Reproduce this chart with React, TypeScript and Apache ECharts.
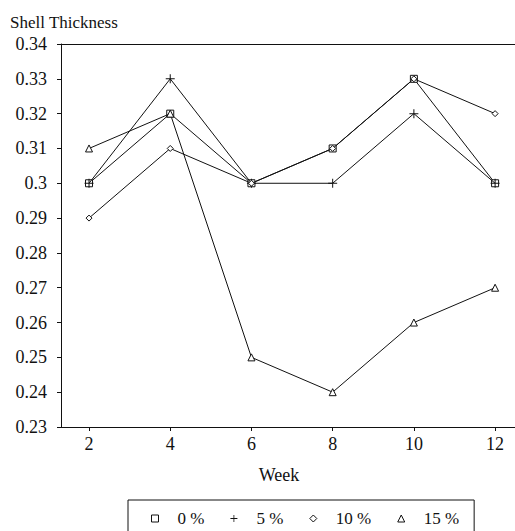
import React, { useEffect, useRef } from "react";
import * as echarts from "echarts";

const weeks = [2, 4, 6, 8, 10, 12];
const seriesNames = ["0 %", "5 %", "10 %", "15 %"];
const values0 = [0.3, 0.32, 0.3, 0.31, 0.33, 0.3];
const values5 = [0.3, 0.33, 0.3, 0.3, 0.32, 0.3];
const values10 = [0.29, 0.31, 0.3, 0.31, 0.33, 0.32];
const values15 = [0.31, 0.32, 0.25, 0.24, 0.26, 0.27];
const yTicks = { min: 0.23, max: 0.34, step: 0.01 };

const FONT = "Liberation Serif";
const INK = "#111";
const PLUS = "path://M4,0H5V9H4ZM0,4H9V5H0Z";

export default function App() {
  const ref = useRef<HTMLDivElement>(null);

  useEffect(() => {
    if (!ref.current) return;
    const chart = echarts.init(ref.current, null, { renderer: "svg" });
    const allValues = [values0, values5, values10, values15];
    const symbols = ["rect", PLUS, "diamond", "triangle"];
    const sizes = [7, 9, 6, 7];
    const legendText = {
      color: INK,
      fontFamily: FONT,
      fontSize: 17,
      padding: [0, 0, 0, 14],
    };
    const series = allValues.map((vals, i) => ({
      name: seriesNames[i],
      type: "line",
      data: weeks.map((w, j) => [w, vals[j]]),
      symbol: symbols[i],
      symbolSize: sizes[i],
      showAllSymbol: true,
      lineStyle: { color: INK, width: 1 },
      itemStyle:
        i === 1
          ? { color: INK, borderWidth: 0 }
          : { color: "#fff", borderColor: INK, borderWidth: 1 },
      z: 2 + i,
    }));

    chart.setOption({
      animation: false,
      textStyle: { fontFamily: FONT },
      grid: { left: 61, top: 44, right: 0, bottom: 104 },
      xAxis: [
        {
          type: "value",
          min: 1.31,
          max: 12.49,
          axisLine: { show: true, lineStyle: { color: INK, width: 1 } },
          axisTick: {
            show: true,
            length: 4,
            lineStyle: { color: INK },
            customValues: weeks,
          },
          axisLabel: {
            color: INK,
            fontFamily: FONT,
            fontSize: 18,
            margin: 8,
            customValues: weeks,
          },
          splitLine: { show: false },
        },
        {
          type: "value",
          position: "top",
          min: 1.31,
          max: 12.49,
          axisLine: { show: true, lineStyle: { color: INK, width: 1 } },
          axisTick: { show: false },
          axisLabel: { show: false },
          splitLine: { show: false },
        },
      ],
      yAxis: {
        type: "value",
        min: yTicks.min,
        max: yTicks.max,
        interval: yTicks.step,
        axisLine: { show: true, lineStyle: { color: INK, width: 1 } },
        axisTick: { show: true, length: 4, lineStyle: { color: INK } },
        axisLabel: { color: INK, fontFamily: FONT, fontSize: 18, margin: 14 },
        splitLine: { show: false },
      },
      legend: {
        left: 128,
        top: 500,
        padding: [10, 15, 10, 23],
        itemGap: 26,
        itemWidth: 7,
        itemHeight: 7,
        borderColor: INK,
        borderWidth: 1,
        textStyle: legendText,
        data: seriesNames.map((n, i) => ({
          name: n,
          icon: symbols[i],
          textStyle: legendText,
          itemStyle:
            i === 1
              ? { color: INK, borderWidth: 0 }
              : { color: "#fff", borderColor: INK, borderWidth: 1 },
        })),
      },
      graphic: [
        {
          type: "text",
          x: 10,
          y: 22,
          style: {
            text: "Shell Thickness",
            fontFamily: FONT,
            fontSize: 17,
            fill: INK,
            verticalAlign: "middle",
          },
        },
        {
          type: "text",
          x: 279,
          y: 475,
          style: {
            text: "Week",
            fontFamily: FONT,
            fontSize: 18,
            fill: INK,
            align: "center",
            verticalAlign: "middle",
          },
        },
      ],
      series,
    });
    return () => chart.dispose();
  }, []);

  return (
    <div
      ref={ref}
      style={{ position: "fixed", left: 0, top: 0, width: 515, height: 531, background: "#fff" }}
    />
  );
}
